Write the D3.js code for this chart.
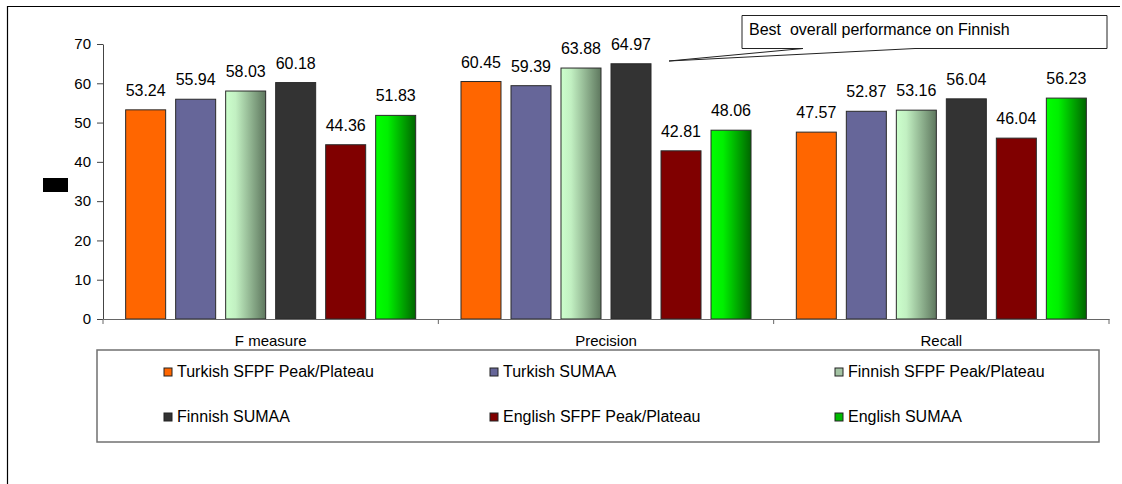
<!DOCTYPE html>
<html>
<head>
<meta charset="utf-8">
<script src="https://cdn.jsdelivr.net/npm/d3@7"></script>
<style>
  html, body { margin: 0; padding: 0; background: #fff; }
  svg { display: block; font-family: "Liberation Sans", Arial, sans-serif; }
</style>
</head>
<body>
<svg id="chart" width="1122" height="484"></svg>
<script>
const categories = ["F measure", "Precision", "Recall"];
const series = ["Turkish SFPF Peak/Plateau", "Turkish SUMAA", "Finnish SFPF Peak/Plateau", "Finnish SUMAA", "English SFPF Peak/Plateau", "English SUMAA"];
const turkishSFPF = [53.24, 60.45, 47.57];
const turkishSUMAA = [55.94, 59.39, 52.87];
const finnishSFPF = [58.03, 63.88, 53.16];
const finnishSUMAA = [60.18, 64.97, 56.04];
const englishSFPF = [44.36, 42.81, 46.04];
const englishSUMAA = [51.83, 48.06, 56.23];
const yTicks = [0, 10, 20, 30, 40, 50, 60, 70];
const calloutText = "Best  overall performance on Finnish";

const seriesValues = [turkishSFPF, turkishSUMAA, finnishSFPF, finnishSUMAA, englishSFPF, englishSUMAA];
const fills = ["#FF6600", "#666699", "url(#gFinSF)", "#333333", "#800000", "url(#gEngSU)"];
const swatchFills = ["#FF6600", "#666699", "#A3C3A3", "#333333", "#800000", "#00BB00"];

const svg = d3.select("#chart");

// gradients
const defs = svg.append("defs");
const g1 = defs.append("linearGradient").attr("id", "gFinSF").attr("x1", "0").attr("x2", "1").attr("y1", "0").attr("y2", "0");
g1.append("stop").attr("offset", "0").attr("stop-color", "#CCFFCC");
g1.append("stop").attr("offset", "0.25").attr("stop-color", "#C2F0C2");
g1.append("stop").attr("offset", "1").attr("stop-color", "#5E775E");
const g2 = defs.append("linearGradient").attr("id", "gEngSU").attr("x1", "0").attr("x2", "1").attr("y1", "0").attr("y2", "0");
g2.append("stop").attr("offset", "0").attr("stop-color", "#00FF00");
g2.append("stop").attr("offset", "0.3").attr("stop-color", "#00F000");
g2.append("stop").attr("offset", "1").attr("stop-color", "#006600");

// outer frame (cropped)
svg.append("line").attr("x1", 7).attr("y1", 6.5).attr("x2", 1120).attr("y2", 6.5).attr("stroke", "#000").attr("stroke-width", 1.2);
svg.append("line").attr("x1", 7.5).attr("y1", 6).attr("x2", 7.5).attr("y2", 484).attr("stroke", "#000").attr("stroke-width", 1.2);

const plotLeft = 103, plotRight = 1109, plotTop = 44, plotBottom = 319;
const x0 = d3.scaleBand().domain(categories).range([plotLeft, plotRight]).paddingInner(0).paddingOuter(0);
const x1 = d3.scaleBand().domain(series).range([0, x0.bandwidth()]).paddingInner(0.2).paddingOuter(0.453);
const y = d3.scaleLinear().domain([0, 70]).range([plotBottom, plotTop]);

// bars
const groups = svg.append("g").selectAll("g").data(categories).join("g")
  .attr("transform", d => `translate(${x0(d)},0)`);

groups.each(function(cat, ci) {
  const g = d3.select(this);
  series.forEach((s, si) => {
    const v = seriesValues[si][ci];
    g.append("rect")
      .attr("x", x1(s)).attr("y", y(v))
      .attr("width", x1.bandwidth()).attr("height", y(0) - y(v))
      .attr("fill", fills[si]).attr("stroke", "#2a2a2a").attr("stroke-width", 1);
    g.append("text")
      .attr("x", x1(s) + x1.bandwidth() / 2).attr("y", y(v) - 14)
      .attr("text-anchor", "middle").attr("font-size", 16).attr("fill", "#000")
      .text(v.toFixed(2));
  });
});

// y axis
const yAxis = d3.axisLeft(y).tickValues(yTicks).tickSize(6).tickSizeOuter(0).tickPadding(6);
const ya = svg.append("g").attr("transform", `translate(${plotLeft},0)`).call(yAxis);
ya.select(".domain").attr("stroke", "#444");
ya.selectAll(".tick line").attr("stroke", "#444");
ya.selectAll(".tick text").attr("font-size", 15).attr("fill", "#000").attr("font-family", "'Liberation Sans', Arial, sans-serif");

// x axis
const xAxis = d3.axisBottom(x0).tickSize(0).tickPadding(16).tickSizeOuter(0);
const xa = svg.append("g").attr("transform", `translate(0,${plotBottom})`).call(xAxis);
xa.select(".domain").attr("stroke", "#666");
xa.selectAll(".tick text").attr("font-size", 15).attr("fill", "#000").attr("font-family", "'Liberation Sans', Arial, sans-serif");
// category boundary ticks
const bounds = categories.map(c => x0(c)).concat([x0(categories[categories.length - 1]) + x0.bandwidth()]);
xa.selectAll(".bt").data(bounds).join("line").attr("class", "bt")
  .attr("x1", d => d).attr("x2", d => d).attr("y1", 0).attr("y2", 5).attr("stroke", "#666");

// y axis title placeholder (black box)
svg.append("rect").attr("x", 43).attr("y", 178).attr("width", 25).attr("height", 14).attr("fill", "#000");

// legend
svg.append("rect").attr("x", 97).attr("y", 350).attr("width", 1002).attr("height", 92)
  .attr("fill", "#fff").attr("stroke", "#707070").attr("stroke-width", 1.5);
const colX = [164, 490, 835];
const rowY = [377, 422];
series.forEach((s, i) => {
  const cx = colX[i % 3], ry = rowY[Math.floor(i / 3)];
  svg.append("rect").attr("x", cx).attr("y", ry - 9).attr("width", 8).attr("height", 8)
    .attr("fill", swatchFills[i]).attr("stroke", "#222").attr("stroke-width", 1);
  svg.append("text").attr("x", cx + 13).attr("y", ry).attr("font-size", 16).attr("fill", "#000").text(s);
});

// callout
svg.append("path")
  .attr("d", "M742,15.5 L1107,15.5 L1107,48.5 L915,48.5 L669,61 L803,48.5 L742,48.5 Z")
  .attr("fill", "#fff").attr("stroke", "#222").attr("stroke-width", 1);
svg.append("text").attr("x", 749).attr("y", 35).attr("font-size", 16).attr("fill", "#000")
  .attr("xml:space", "preserve").style("white-space", "pre").text(calloutText);
</script>
</body>
</html>
